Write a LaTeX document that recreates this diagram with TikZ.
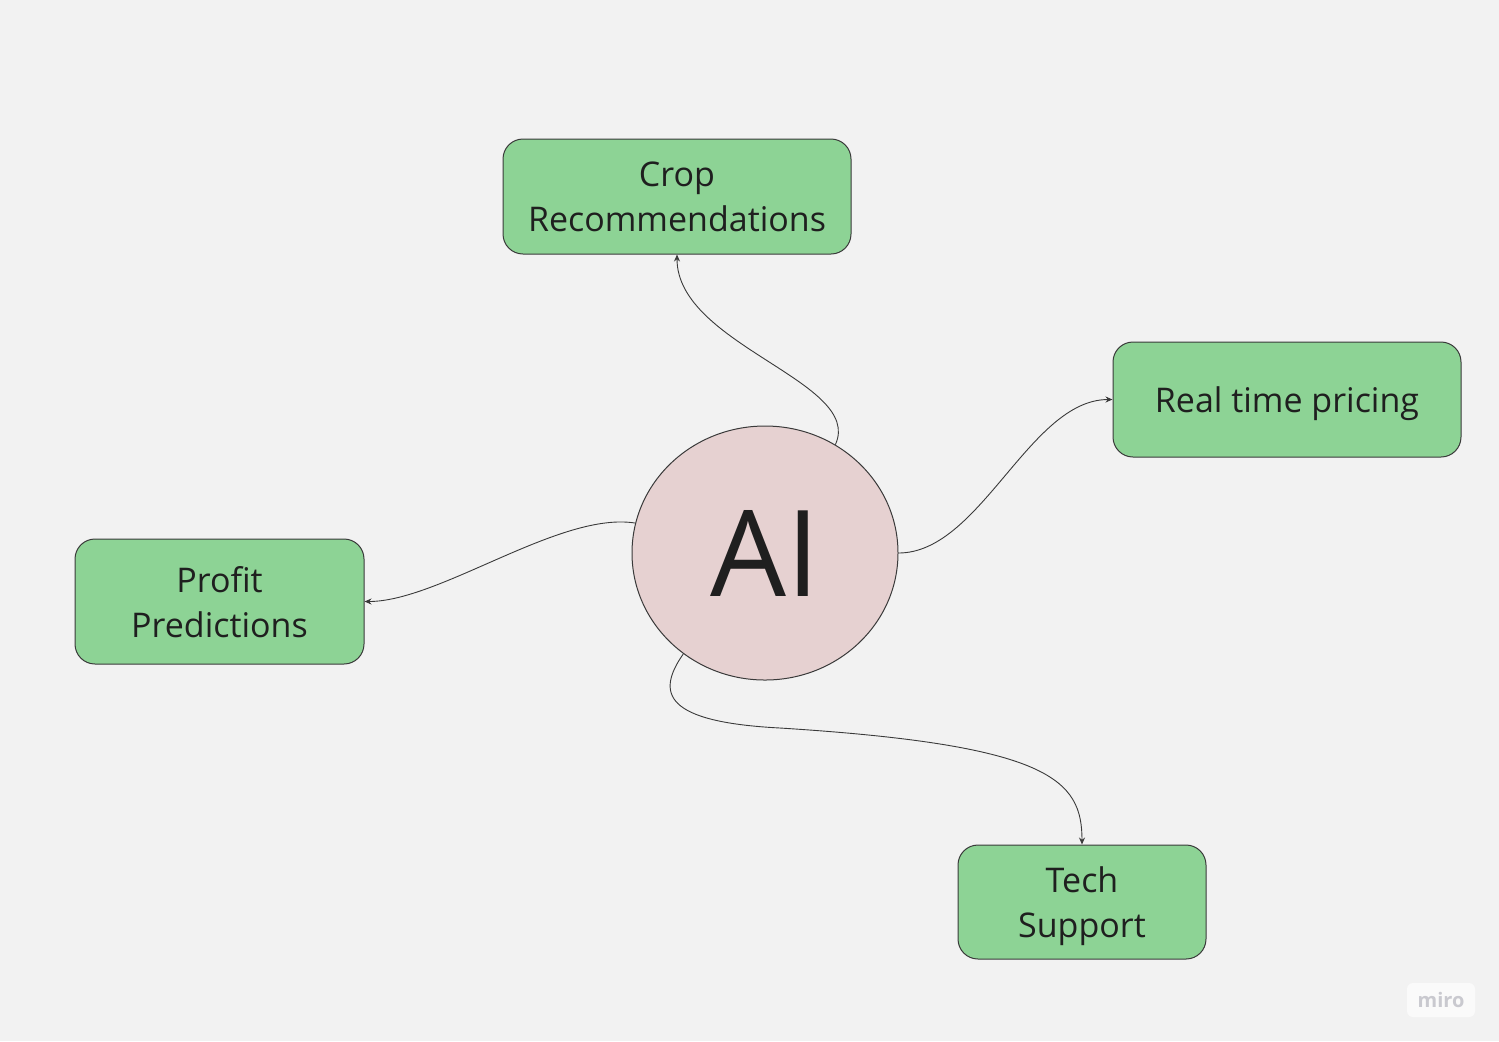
\documentclass[tikz,border=0pt]{standalone}
\usepackage{fontspec}
\setmainfont{Open Sans}
\usetikzlibrary{arrows.meta,shapes.geometric}
\definecolor{bg}{HTML}{F2F2F2}
\definecolor{boxgreen}{HTML}{8DD395}
\definecolor{aipink}{HTML}{E6D1D1}
\definecolor{txt}{HTML}{1F1F1F}
\definecolor{edge}{HTML}{3A3A3A}
\definecolor{logo}{HTML}{C9C9CF}
\tikzset{
  topic/.style={draw=edge, line width=0.5pt, fill=boxgreen, rounded corners=10pt,
    align=center, text=txt, font=\fontsize{17}{22.5}\selectfont, inner sep=0pt,
    text depth=0pt},
  hub/.style={ellipse, draw=edge, line width=0.5pt, fill=aipink, text=txt,
    minimum width=133pt, minimum height=127pt, inner sep=0pt,
    font=\fontsize{60}{60}\selectfont},
  link/.style={draw=edge, line width=0.45pt, -{Stealth[length=3.5pt,width=3pt]}},
}
\begin{document}
\begin{tikzpicture}[x=0.5pt,y=-0.5pt]
\fill[bg] (0,0) rectangle (1499,1041);
\useasboundingbox (0,0) rectangle (1499,1041);

\node[topic, minimum width=174pt, minimum height=57.5pt] (crop) at (677,196.5) {Crop\\Recommendations};
\node[topic, minimum width=174pt, minimum height=57.5pt] (rt) at (1287,399.5) {Real time pricing};
\node[topic, minimum width=144.5pt, minimum height=62.5pt] (pp) at (219.5,601.5) {Profit\\Predictions};
\node[topic, minimum width=124pt, minimum height=57pt] (ts) at (1082,902) {Tech\\Support};
\node[hub] (ai) at (765,553) {AI};

\coordinate (w) at (780,728);

\draw[link] (ai.57) .. controls +(29,-63) and +(0,91) .. (crop.south);
\draw[link] (ai.east) .. controls +(82,0) and +(-83,0) .. (rt.west);
\draw[link] (ai.167) .. controls +(-75,-12) and +(75,0) .. (pp.east);
\draw[link] (ai.231) .. controls +(-28,40) and +(-115,-6) .. (w)
  .. controls +(270,17) and +(0,-65) .. (ts.north);

\node[fill=white!60!bg, rounded corners=3pt, minimum width=34pt, minimum height=17pt,
  text=logo, font=\bfseries\fontsize{10}{10}\selectfont] (miro) at (1441,1000) {miro};
\end{tikzpicture}
\end{document}
